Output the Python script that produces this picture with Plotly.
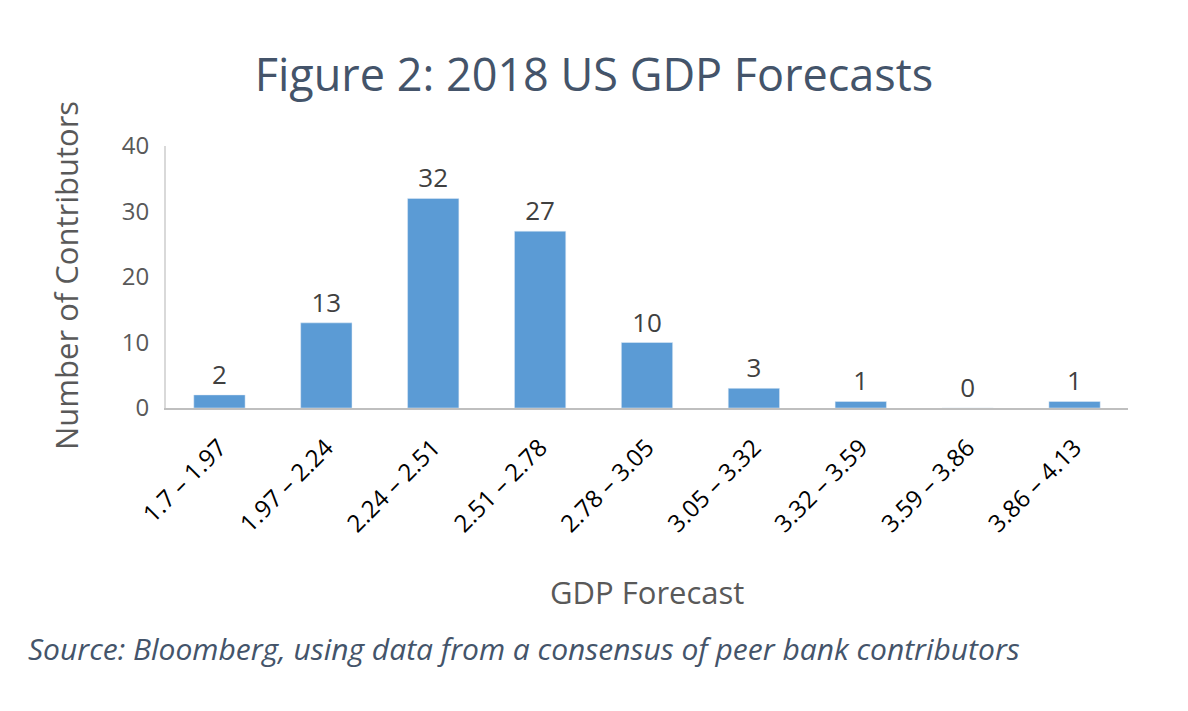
import plotly.graph_objects as go

categories = ['1.7 – 1.97', '1.97 – 2.24', '2.24 – 2.51', '2.51 – 2.78', '2.78 – 3.05',
              '3.05 – 3.32', '3.32 – 3.59', '3.59 – 3.86', '3.86 – 4.13']
contributors = [2, 13, 32, 27, 10, 3, 1, 0, 1]

font_name = 'Open Sans'

# plot area corners in page pixels (page has an 8px body offset)
left, right, top, bottom = 166, 1128, 146, 408
pw, ph = right - left, bottom - top

fig = go.Figure()
fig.add_trace(go.Bar(
    x=categories, y=contributors,
    marker_color='#5B9BD5',
    text=contributors, textposition='outside', cliponaxis=False,
    textfont=dict(family=font_name, size=26, color='#404040'),
))

fig.update_layout(
    width=1188, height=711,
    paper_bgcolor='white', plot_bgcolor='white',
    margin=dict(l=left - 8, r=1188 - right + 8, t=top - 8, b=711 - bottom + 8),
    bargap=0.52,
    showlegend=False,
    title=dict(text='Figure 2: 2018 US GDP Forecasts', x=(594 - 8) / 1188, xanchor='center',
               y=1 - (75 - 8) / 711, yanchor='middle',
               font=dict(family=font_name, size=45, color='#44546A')),
    font=dict(family=font_name),
)
fig.update_xaxes(
    tickangle=-45, tickfont=dict(family=font_name, size=24, color='#000000'),
    ticklabelstandoff=14,
    showline=True, linecolor='#BFBFBF', linewidth=2, ticks='', showgrid=False,
)
fig.update_yaxes(
    range=[0, 40], dtick=10, tickfont=dict(family=font_name, size=24, color='#595959'),
    ticklabelstandoff=10,
    showline=True, linecolor='#D9D9D9', linewidth=2, showgrid=False, zeroline=False,
    ticks='', ticklen=0,
)
fig.add_annotation(text='Number of Contributors', xref='paper', yref='paper',
                   x=(66 - left) / pw, y=(bottom - 276) / ph, textangle=-90, showarrow=False,
                   xanchor='center', yanchor='middle',
                   font=dict(family=font_name, size=31, color='#595959'))
fig.add_annotation(text='GDP Forecast', xref='paper', yref='paper',
                   x=(647 - left) / pw, y=(bottom - 592) / ph, showarrow=False,
                   xanchor='center', yanchor='middle',
                   font=dict(family=font_name, size=31, color='#595959'))
fig.add_annotation(text='<i>Source: Bloomberg, using data from a consensus of peer bank contributors</i>',
                   xref='paper', yref='paper',
                   x=(26 - left) / pw, y=(bottom - 648) / ph, showarrow=False,
                   xanchor='left', yanchor='middle',
                   font=dict(family=font_name, size=30, color='#44546A'))

fig.write_html('out.html')
